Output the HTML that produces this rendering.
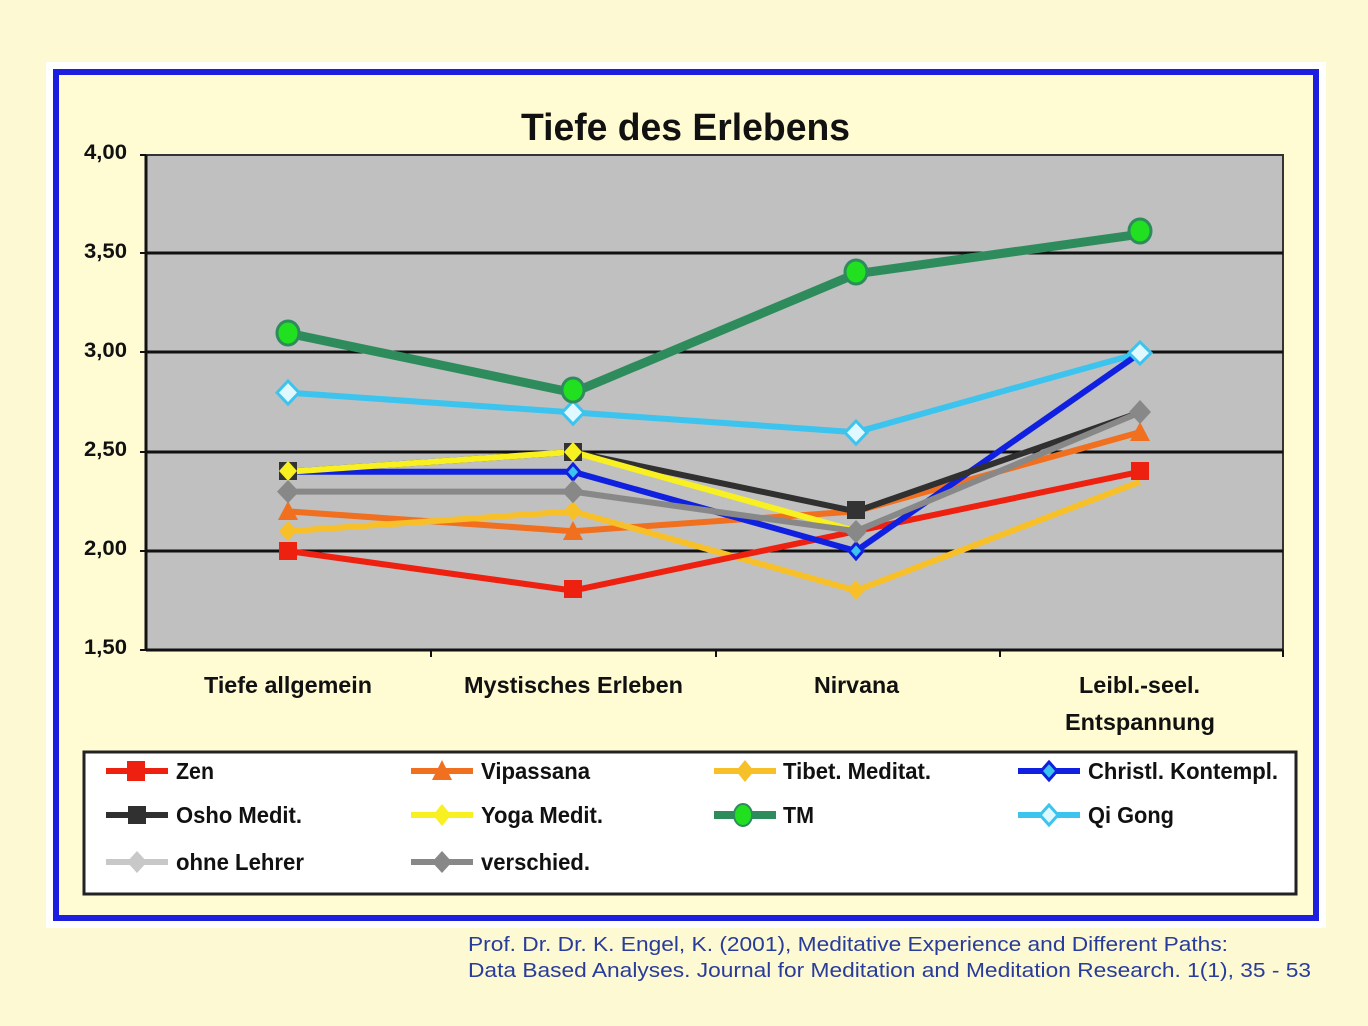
<!DOCTYPE html>
<html><head><meta charset="utf-8"><style>
html,body{margin:0;padding:0;background:#fdf9d2;}
svg{display:block}
text{font-family:"Liberation Sans Narrow","Liberation Sans",sans-serif;font-weight:bold;}
</style></head><body>
<svg width="1368" height="1026" viewBox="0 0 1368 1026" xmlns="http://www.w3.org/2000/svg">
<rect x="0" y="0" width="1368" height="1026" fill="#fdf9d2"/>
<rect x="46" y="62" width="1280" height="866" fill="#ffffff"/>
<rect x="56" y="72" width="1260" height="846" fill="#fffbd3" stroke="#1c1ee0" stroke-width="6"/>
<text x="521" y="140" font-size="38" fill="#111" textLength="329" lengthAdjust="spacingAndGlyphs">Tiefe des Erlebens</text>
<rect x="146" y="155" width="1137" height="495" fill="#c0c0c0" stroke="#333" stroke-width="2"/>
<g stroke="#111" stroke-width="3">
<line x1="146" y1="253" x2="1283" y2="253"/>
<line x1="146" y1="352" x2="1283" y2="352"/>
<line x1="146" y1="452" x2="1283" y2="452"/>
<line x1="146" y1="551" x2="1283" y2="551"/>
<line x1="146" y1="650" x2="1283" y2="650"/>
<line x1="146" y1="155" x2="146" y2="650"/>
</g>
<g stroke="#111" stroke-width="2">
<line x1="140" y1="155" x2="146" y2="155"/><line x1="140" y1="253" x2="146" y2="253"/><line x1="140" y1="352" x2="146" y2="352"/><line x1="140" y1="452" x2="146" y2="452"/><line x1="140" y1="551" x2="146" y2="551"/><line x1="140" y1="650" x2="146" y2="650"/>
<line x1="431" y1="650" x2="431" y2="657"/><line x1="716" y1="650" x2="716" y2="657"/><line x1="1000" y1="650" x2="1000" y2="657"/><line x1="1283" y1="650" x2="1283" y2="657"/>
</g>
<g font-size="21" fill="#111">
<text x="84" y="159" textLength="43" lengthAdjust="spacingAndGlyphs">4,00</text>
<text x="84" y="258" textLength="43" lengthAdjust="spacingAndGlyphs">3,50</text>
<text x="84" y="357" textLength="43" lengthAdjust="spacingAndGlyphs">3,00</text>
<text x="84" y="456" textLength="43" lengthAdjust="spacingAndGlyphs">2,50</text>
<text x="84" y="555" textLength="43" lengthAdjust="spacingAndGlyphs">2,00</text>
<text x="84" y="654" textLength="43" lengthAdjust="spacingAndGlyphs">1,50</text>
</g>
<g font-size="23" fill="#111">
<text x="204" y="693" textLength="168" lengthAdjust="spacingAndGlyphs">Tiefe allgemein</text>
<text x="464" y="693" textLength="219" lengthAdjust="spacingAndGlyphs">Mystisches Erleben</text>
<text x="814" y="693" textLength="85" lengthAdjust="spacingAndGlyphs">Nirvana</text>
<text x="1079" y="693" textLength="121" lengthAdjust="spacingAndGlyphs">Leibl.-seel.</text>
<text x="1065" y="730" textLength="150" lengthAdjust="spacingAndGlyphs">Entspannung</text>
</g>
<g fill="none" stroke-linejoin="round">
<polyline points="288,392.6 573,412.4 856,432.2 1140,353" stroke="#3cc4ee" stroke-width="6"/>
<polyline points="288,333.2 573,392.6 856,273.8 1140,234.2" stroke="#2e8c5c" stroke-width="9"/>
<polyline points="288,511.4 573,531.2 856,511.4 1140,432.2" stroke="#f07020" stroke-width="6"/>
<polyline points="288,531.2 573,511.4 856,590.6 1140,481.7" stroke="#f8c028" stroke-width="6"/>
<polyline points="288,551 573,590.6 856,531.2 1140,471.8" stroke="#ee2010" stroke-width="6"/>
<polyline points="288,471.8 573,471.8 856,551 1140,353" stroke="#1020e0" stroke-width="6"/>
<polyline points="288,471.8 573,452 856,511.4 1140,412.4" stroke="#303030" stroke-width="6"/>
<polyline points="288,471.8 573,452 856,531.2" stroke="#f8f020" stroke-width="6"/>
<polyline points="288,491.6 573,491.6 856,531.2 1140,412.4" stroke="#888888" stroke-width="6"/>
</g>
<g>
<g fill="#e0f8ff" stroke="#3cc4ee" stroke-width="3">
<path d="M288 381l11 11.6-11 11.6-11-11.6z"/><path d="M573 401l11 11.6-11 11.6-11-11.6z"/><path d="M856 421l11 11.6-11 11.6-11-11.6z"/><path d="M1140 342l11 11-11 11-11-11z"/>
</g>
<g fill="#20e020" stroke="#2e8c5c" stroke-width="3">
<ellipse cx="288" cy="333" rx="11" ry="12"/><ellipse cx="573" cy="390" rx="11" ry="12"/><ellipse cx="856" cy="272" rx="11" ry="12"/><ellipse cx="1140" cy="231" rx="11" ry="12"/>
</g>
<g fill="#f07020">
<path d="M288 501l10 19h-20z"/><path d="M573 521l10 19h-20z"/><path d="M1140 422l10 19h-20z"/>
</g>
<g fill="#f8c028">
<path d="M288 521l9 10-9 10-9-10z"/><path d="M573 501l9 10-9 10-9-10z"/><path d="M856 580l9 10-9 10-9-10z"/>
</g>
<g fill="#ee2010">
<rect x="279" y="542" width="18" height="18"/><rect x="564" y="580" width="18" height="18"/><rect x="1131" y="462" width="18" height="18"/>
</g>
<g fill="#3cc4ee" stroke="#1020e0" stroke-width="3">
<path d="M573 464l7 8-7 8-7-8z"/><path d="M856 543l7 8-7 8-7-8z"/>
</g>
<g fill="#333"><rect x="279" y="462" width="18" height="18"/><rect x="564" y="443" width="18" height="18"/><rect x="847" y="501" width="18" height="18"/></g>
<g fill="#f8f020"><path d="M288 461l9 10-9 10-9-10z"/><path d="M573 442l9 10-9 10-9-10z"/></g>
<g fill="#888"><path d="M288 480l11 11.6-11 11.6-11-11.6z"/><path d="M573 480l11 11.6-11 11.6-11-11.6z"/><path d="M856 520l11 11.6-11 11.6-11-11.6z"/><path d="M1140 400l11 12-11 12-11-12z"/></g>
</g>
<rect x="84" y="752" width="1212" height="142" fill="#ffffff" stroke="#222" stroke-width="3"/>
<g font-size="23" fill="#111">
<g stroke-width="6">
<line x1="106" y1="771" x2="168" y2="771" stroke="#ee2010"/><rect x="127" y="761" width="18" height="20" fill="#ee2010"/>
<line x1="411" y1="771" x2="473" y2="771" stroke="#f07020"/><path d="M442 760l10 20h-20z" fill="#f07020"/>
<line x1="714" y1="771" x2="776" y2="771" stroke="#f8c028"/><path d="M745 760l9 11-9 11-9-11z" fill="#f8c028"/>
<line x1="1018" y1="771" x2="1080" y2="771" stroke="#1020e0"/><path d="M1049 762l8 9-8 9-8-9z" fill="#3cc4ee" stroke="#1020e0" stroke-width="3"/>
<line x1="106" y1="815" x2="168" y2="815" stroke="#303030"/><rect x="128" y="806" width="18" height="18" fill="#303030"/>
<line x1="411" y1="815" x2="473" y2="815" stroke="#f8f020"/><path d="M442 804l9 11-9 11-9-11z" fill="#f8f020"/>
<line x1="714" y1="815" x2="776" y2="815" stroke="#2e8c5c" stroke-width="8"/><ellipse cx="743" cy="815" rx="9" ry="11" fill="#20e020" stroke="#2e8c5c" stroke-width="2"/>
<line x1="1018" y1="815" x2="1080" y2="815" stroke="#3cc4ee"/><path d="M1049 805l9 10-9 10-9-10z" fill="#e0f8ff" stroke="#3cc4ee" stroke-width="3"/>
<line x1="106" y1="862" x2="168" y2="862" stroke="#c8c8c8"/><path d="M137 851l10 11-10 11-10-11z" fill="#c8c8c8"/>
<line x1="411" y1="862" x2="473" y2="862" stroke="#888"/><path d="M442 851l10 11-10 11-10-11z" fill="#888"/>
</g>
<text x="176" y="779" textLength="38" lengthAdjust="spacingAndGlyphs">Zen</text>
<text x="481" y="779" textLength="109" lengthAdjust="spacingAndGlyphs">Vipassana</text>
<text x="783" y="779" textLength="148" lengthAdjust="spacingAndGlyphs">Tibet. Meditat.</text>
<text x="1088" y="779" textLength="190" lengthAdjust="spacingAndGlyphs">Christl. Kontempl.</text>
<text x="176" y="823" textLength="126" lengthAdjust="spacingAndGlyphs">Osho Medit.</text>
<text x="481" y="823" textLength="122" lengthAdjust="spacingAndGlyphs">Yoga Medit.</text>
<text x="783" y="823" textLength="31" lengthAdjust="spacingAndGlyphs">TM</text>
<text x="1088" y="823" textLength="86" lengthAdjust="spacingAndGlyphs">Qi Gong</text>
<text x="176" y="870" textLength="128" lengthAdjust="spacingAndGlyphs">ohne Lehrer</text>
<text x="481" y="870" textLength="109" lengthAdjust="spacingAndGlyphs">verschied.</text>
</g>
<g font-size="20.5" fill="#283c9c">
<text x="468" y="951" textLength="760" lengthAdjust="spacingAndGlyphs" style="font-family:'Liberation Sans',sans-serif;font-weight:normal">Prof. Dr. Dr. K. Engel, K. (2001), Meditative Experience and Different Paths:</text>
<text x="468" y="977" textLength="843" lengthAdjust="spacingAndGlyphs" style="font-family:'Liberation Sans',sans-serif;font-weight:normal">Data Based Analyses. Journal for Meditation and Meditation Research. 1(1), 35 - 53</text>
</g>
</svg>
</body></html>
